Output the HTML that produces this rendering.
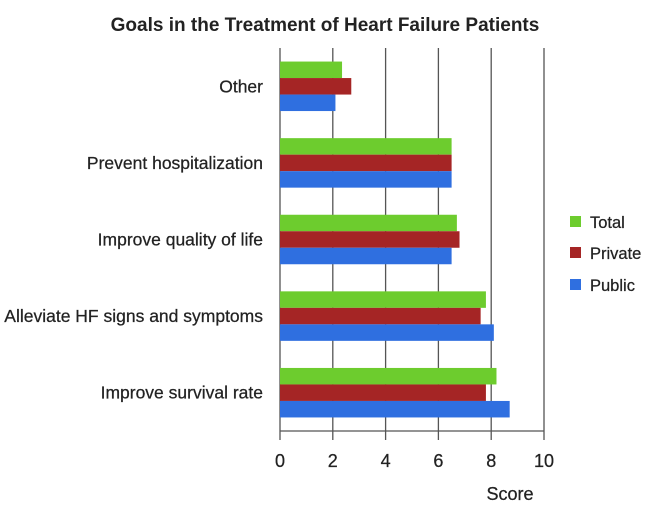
<!DOCTYPE html>
<html><head><meta charset="utf-8"><style>
body{margin:0;background:#fff;font-family:"Liberation Sans",sans-serif;}
svg{display:block}
text{stroke:#222;stroke-width:0.25}
</style></head><body>
<svg id="chart" width="650" height="505">
<text x="325" y="31" text-anchor="middle" font-size="19" font-weight="bold" fill="#222" style="stroke:none">Goals in the Treatment of Heart Failure Patients</text>
<g id="grid"></g><g id="bars"></g><g id="axis"></g>
<g>
<rect x="570" y="216" width="11" height="11" fill="#6dcc2e"/>
<text x="590" y="228" font-size="16.5" fill="#222">Total</text>
<rect x="570" y="247" width="11" height="11" fill="#a52525"/>
<text x="590" y="259" font-size="16.5" fill="#222">Private</text>
<rect x="570" y="279" width="11" height="11" fill="#2f6fe0"/>
<text x="590" y="291" font-size="16.5" fill="#222">Public</text>
</g>
<text x="510" y="500" text-anchor="middle" font-size="18" fill="#222">Score</text>
</svg>
<script>
const categories=["Other","Prevent hospitalization","Improve quality of life","Alleviate HF signs and symptoms","Improve survival rate"];
const totalVals=[2.35,6.5,6.7,7.8,8.2];
const privateVals=[2.7,6.5,6.8,7.6,7.8];
const publicVals=[2.1,6.5,6.5,8.1,8.7];
const ticks=[0,2,4,6,8,10];
const NS="http://www.w3.org/2000/svg";
const x0=280,x1=544,yTop=48,yBot=431,xmax=10;
const xs=v=>x0+(x1-x0)*v/xmax;
const band=(yBot-yTop)/categories.length;
function mk(t,a,p){const e=document.createElementNS(NS,t);for(const k in a)e.setAttribute(k,a[k]);p.appendChild(e);return e;}
const grid=document.getElementById('grid'),bars=document.getElementById('bars'),axis=document.getElementById('axis');
ticks.forEach(t=>{
 const l=mk('line',{x1:xs(t),x2:xs(t),y1:yTop,y2:440,stroke:'#555','stroke-width':1.3},grid);
 
 
 const tx=mk('text',{x:xs(t),y:467,'text-anchor':'middle','font-size':18,fill:'#222'},axis);
 tx.textContent=t;
 
 
});
const ax=mk('line',{x1:x0,x2:x1,y1:yBot,y2:yBot,stroke:'#555','stroke-width':1.3},axis);


const series=[["total",totalVals,"#6dcc2e"],["private",privateVals,"#a52525"],["public",publicVals,"#2f6fe0"]];
const bh=16.5;
categories.forEach((c,i)=>{
 const cy=yTop+band*(i+0.5);
 const lb=mk('text',{x:263,y:cy+6,'text-anchor':'end','font-size':17.5,fill:'#222'},axis);
 lb.textContent=c;
 
 
 series.forEach((s,j)=>{
  const r=mk('rect',{x:x0,y:cy-1.5*bh+j*bh,width:xs(s[1][i])-x0,height:bh,fill:s[2]},bars);
  
  
 });
});
</script>
</body></html>
